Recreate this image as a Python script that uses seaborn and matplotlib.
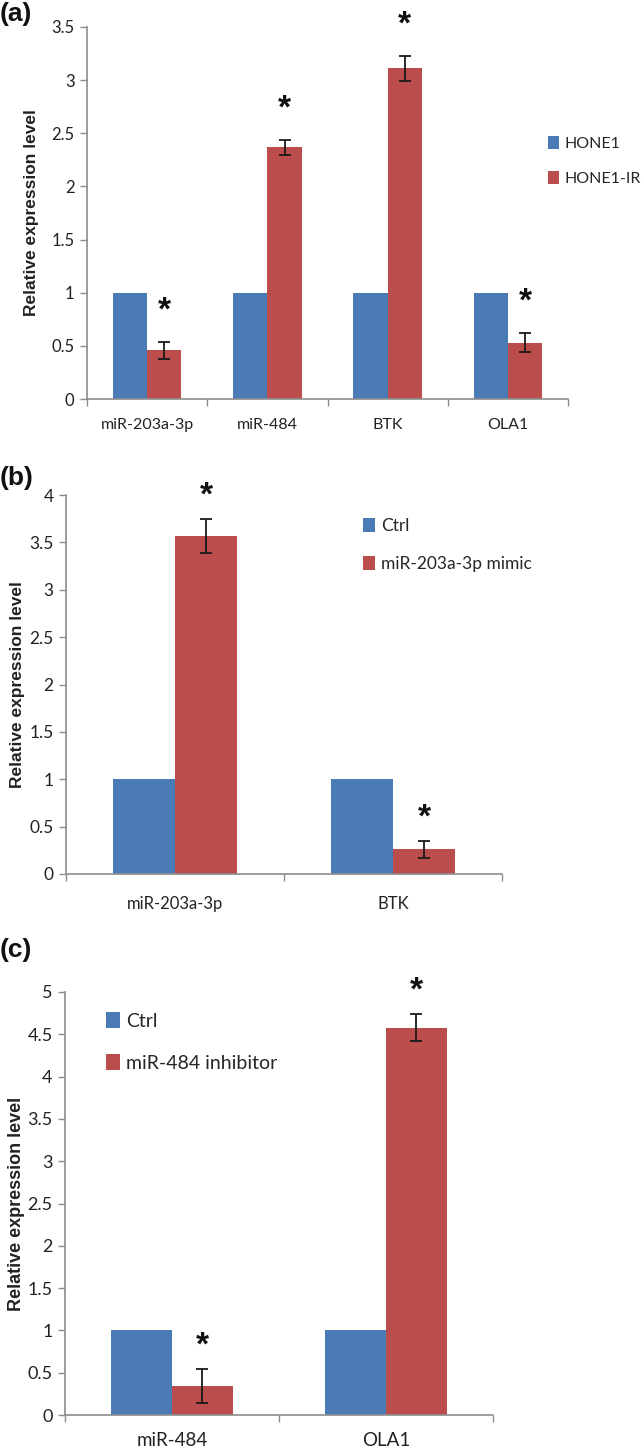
import matplotlib
matplotlib.use("Agg")
import matplotlib.pyplot as plt
import seaborn as sns
import pandas as pd
import numpy as np

# ---------------- data ----------------
a_categories = ["miR-203a-3p", "miR-484", "BTK", "OLA1"]
a_groups = ["HONE1", "HONE1-IR"]
a_ctrl = [1.0, 1.0, 1.0, 1.0]
a_treat = [0.46, 2.37, 3.11, 0.53]
a_err = [0.08, 0.07, 0.12, 0.09]
a_yticks = [0, 0.5, 1, 1.5, 2, 2.5, 3, 3.5]

b_categories = ["miR-203a-3p", "BTK"]
b_groups = ["Ctrl", "miR-203a-3p mimic"]
b_ctrl = [1.0, 1.0]
b_treat = [3.57, 0.26]
b_err = [0.18, 0.09]
b_yticks = [0, 0.5, 1, 1.5, 2, 2.5, 3, 3.5, 4]

c_categories = ["miR-484", "OLA1"]
c_groups = ["Ctrl", "miR-484 inhibitor"]
c_ctrl = [1.0, 1.0]
c_treat = [0.34, 4.58]
c_err = [0.2, 0.16]
c_yticks = [0, 0.5, 1, 1.5, 2, 2.5, 3, 3.5, 4, 4.5, 5]

BLUE = "#4a7bb5"
RED = "#bc4d4d"
AXC = "#8c8c8c"
NARROW = ["Lato", "DejaVu Sans"]

sns.set_theme(style="white")
plt.rcParams["font.family"] = ["Liberation Sans", "DejaVu Sans"]

fig = plt.figure(figsize=(6.44, 14.54), dpi=100)
W, H = 644, 1454


def px_axes(left, right, top, bottom):
    return fig.add_axes([left / W, 1 - bottom / H, (right - left) / W, (bottom - top) / H])


def panel(ax, box, cats, groups, ctrl, treat, err, yticks, star_off, tick_fs, xtick_fs,
          xlab_pad, legend_px, legend_fs, ylab_fs, ylab_px):
    left, right, top, bottom = box
    df = pd.DataFrame({
        "cat": cats * 2,
        "grp": [groups[0]] * len(cats) + [groups[1]] * len(cats),
        "val": list(ctrl) + list(treat),
    })
    sns.barplot(data=df, x="cat", y="val", hue="grp", order=cats, hue_order=groups,
                palette=[BLUE, RED], width=0.57, gap=0, errorbar=None,
                saturation=1, ax=ax, linewidth=0)
    red_bars = [p for p in ax.patches if p.get_height() > 0][len(cats):2 * len(cats)]
    xs = [p.get_x() + p.get_width() / 2 for p in red_bars]
    ax.errorbar(xs, treat, yerr=err, fmt="none", ecolor="#1a1a1a",
                elinewidth=1.3, capsize=4, capthick=1.3)
    for x, v, e in zip(xs, treat, err):
        ax.annotate("*", xy=(x, v + e), xytext=(0, star_off), textcoords="offset pixels",
                    ha="center", va="center", fontsize=24, fontweight="bold",
                    color="#111111", annotation_clip=False)
    ax.set_xlim(-0.5, len(cats) - 0.5)
    ax.set_ylim(0, yticks[-1])
    ax.set_yticks(yticks)
    ax.set_yticklabels([f"{t:g}" for t in yticks], family=NARROW, fontsize=tick_fs,
                       color="#222222")
    ax.set_xticks(range(len(cats)))
    ax.set_xticklabels(cats, family=NARROW, fontsize=xtick_fs, color="#222222")
    ax.set_xticks(np.arange(-0.5, len(cats), 1.0), minor=True)
    ax.tick_params(axis="x", which="major", length=0, pad=xlab_pad)
    ax.tick_params(axis="x", which="minor", length=5, width=1, color=AXC, direction="out",
                   bottom=True)
    ax.tick_params(axis="y", length=5, width=1, color=AXC, direction="out", left=True,
                   pad=4)
    for s in ["top", "right"]:
        ax.spines[s].set_visible(False)
    for s in ["left", "bottom"]:
        ax.spines[s].set_color(AXC)
        ax.spines[s].set_linewidth(1.2)
    ax.set_xlabel("")
    ax.set_ylabel("Relative expression level", fontsize=ylab_fs, fontweight="bold",
                  color="#222222", va="center")
    ax.yaxis.set_label_coords((ylab_px - left) / (right - left), 0.5)
    handles, labels = ax.get_legend_handles_labels()
    ax.legend(handles, labels, loc="upper left",
              bbox_to_anchor=(legend_px[0] / W, 1 - legend_px[1] / H),
              bbox_transform=fig.transFigure, frameon=False, borderpad=0,
              borderaxespad=0, handlelength=0.7, handleheight=0.9, handletextpad=0.35,
              labelspacing=1.25, prop={"family": NARROW, "size": legend_fs})


box_a = (87, 568, 27, 399)
ax_a = px_axes(*box_a)
panel(ax_a, box_a, a_categories, a_groups, a_ctrl, a_treat, a_err, a_yticks, 31, 12, 11.5,
      14, (548, 136), 11.5, 12.5, 32)
box_b = (66, 502, 495, 874)
ax_b = px_axes(*box_b)
panel(ax_b, box_b, b_categories, b_groups, b_ctrl, b_treat, b_err, b_yticks, 23, 12.5, 12,
      16, (363, 518), 12.5, 12.5, 18)
box_c = (65, 493, 992, 1415)
ax_c = px_axes(*box_c)
panel(ax_c, box_c, c_categories, c_groups, c_ctrl, c_treat, c_err, c_yticks, 23, 13, 13.5,
      12, (106, 1012), 14, 13, 17)

for lab, y in [("(a)", 14), ("(b)", 478), ("(c)", 950)]:
    fig.text(0, 1 - y / H, lab, fontsize=19, fontweight="bold", va="center",
             ha="left", color="#111111")

fig.savefig("out.png", dpi=100)
